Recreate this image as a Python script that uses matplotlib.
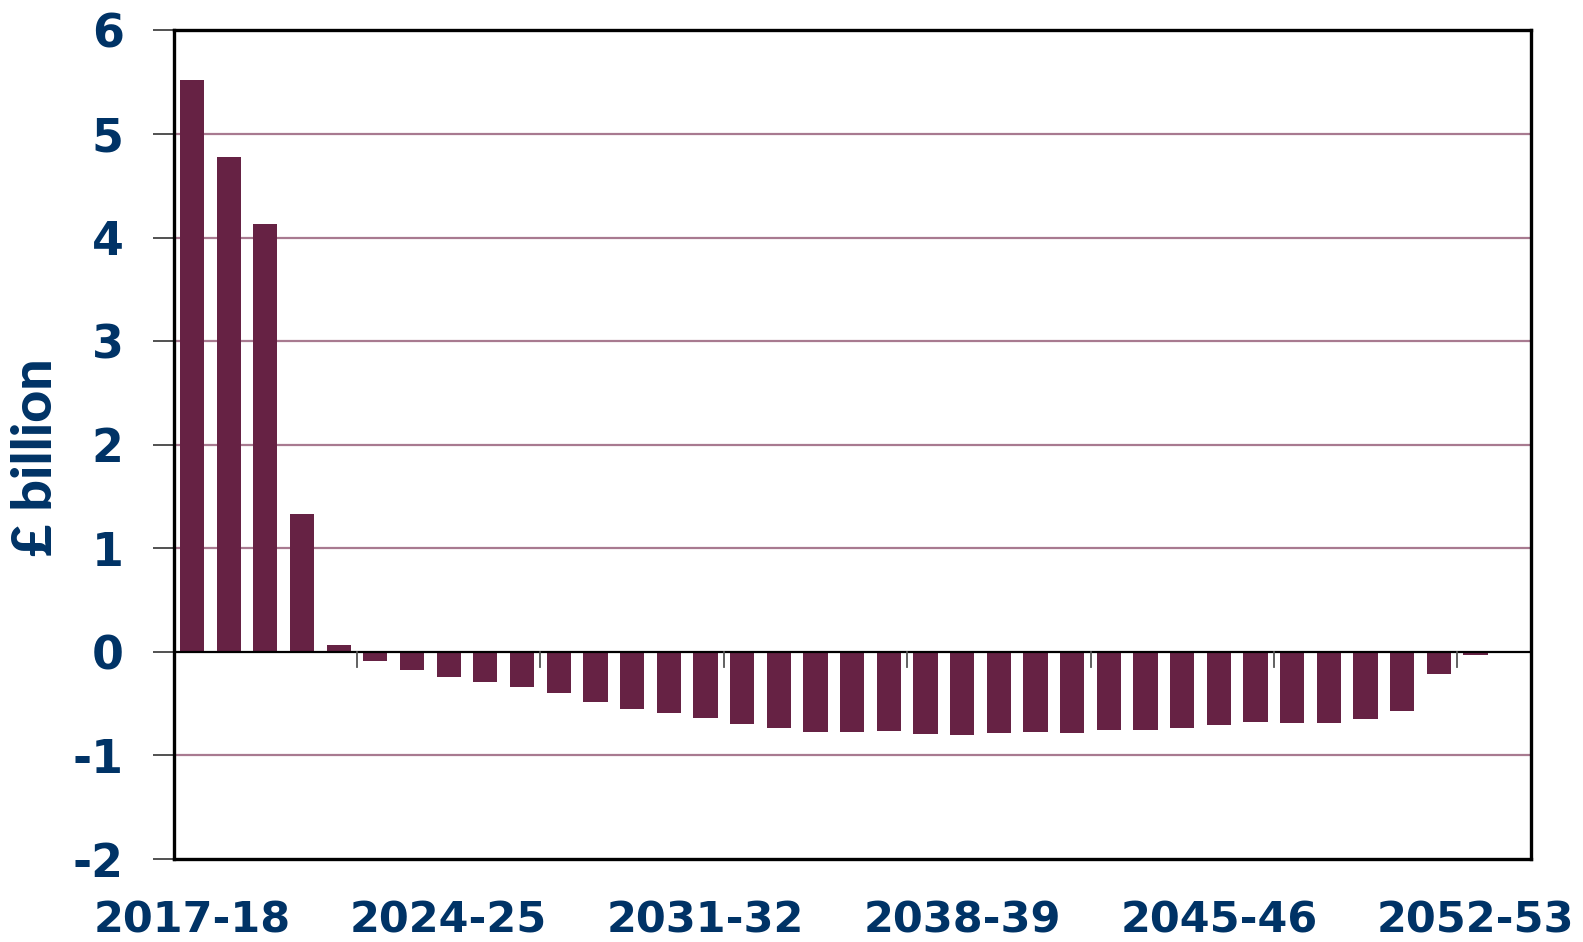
import numpy as np
import matplotlib
matplotlib.use("Agg")
import matplotlib.pyplot as plt

# financial years 2017-18 .. 2053-54
years = [f"{y}-{(y + 1) % 100:02d}" for y in range(2017, 2054)]
values = [5.52, 4.78, 4.13, 1.33, 0.07, -0.09, -0.18, -0.24, -0.29, -0.34,
          -0.40, -0.48, -0.55, -0.59, -0.64, -0.70, -0.74, -0.77, -0.77, -0.76,
          -0.79, -0.80, -0.78, -0.77, -0.78, -0.75, -0.75, -0.74, -0.71, -0.68,
          -0.69, -0.69, -0.65, -0.57, -0.21, -0.035, -0.01]
yticks = [-2, -1, 0, 1, 2, 3, 4, 5, 6]

navy = '#003366'
bar_col = '#662244'
grid_col = '#a87a90'

fig = plt.figure(figsize=(15.83, 9.42), dpi=100)
ax = fig.add_axes([0.1097, 0.0881, 0.8572, 0.8797])

x = np.arange(len(values))
ax.bar(x, values, width=0.66, color=bar_col, zorder=3)

ax.set_xlim(-0.5, len(values) - 0.5)
ax.set_ylim(-2, 6)

# horizontal gridlines (not at 0 or the frame edges)
for v in yticks:
    if v in (-2, 0, 6):
        continue
    ax.axhline(v, color=grid_col, lw=1.6, zorder=1)
ax.axhline(0, color='black', lw=1.6, zorder=4)

# tick marks hanging off the zero line every 5 years
for b in np.arange(4.5, len(values) - 1, 5):
    ax.plot([b, b], [0, -0.145], color='#555555', lw=1.3, zorder=4)

for s in ax.spines.values():
    s.set_linewidth(2.4)
    s.set_color('black')

ax.set_yticks(yticks)
ax.set_yticklabels([str(v) for v in yticks], fontsize=33, fontweight='bold',
                   family='DejaVu Sans', color=navy)
ax.tick_params(axis='y', length=15, width=1.2, color='#333333', pad=21)

lab_idx = list(range(0, len(years), 7))
ax.set_xticks(lab_idx)
ax.set_xticklabels([years[i] for i in lab_idx], fontsize=31, fontweight='bold',
                   family='DejaVu Sans', color=navy)
ax.tick_params(axis='x', length=0, pad=29)

fig.text(36 / 1583, 1 - 457 / 942, '£ billion', rotation=90, ha='center', va='center',
         fontsize=40, fontweight='black', family='Lato', color=navy)

fig.savefig('out.png', dpi=100)
